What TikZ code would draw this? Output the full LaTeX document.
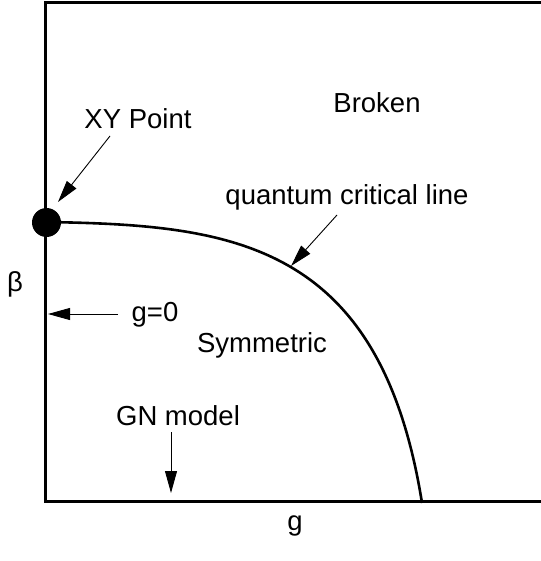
\documentclass[tikz,border=0pt]{standalone}
\usepackage{fontspec}
\setmainfont{Liberation Sans}
\usetikzlibrary{arrows.meta}
\tikzset{
  frame/.style={line width=3pt},
  curve/.style={line width=2.6pt},
  lbl/.style={font=\fontsize{27.5}{32}\selectfont, inner sep=0pt},
  pointer/.style={line width=0.9pt, -{Triangle[length=22pt,width=12pt]}},
}
\begin{document}
\begin{tikzpicture}[x=1pt,y=-1pt]
\useasboundingbox (0,0) rectangle (540,561);
% frame
\coordinate (tr) at (545,2.5);
\coordinate (tl) at (45,2.5);
\coordinate (bl) at (45,501.5);
\coordinate (br) at (545,501.5);
\draw[frame] (tr) -- (tl) -- (bl) -- (br);
% critical line
\coordinate (cstart) at (46,222);
\coordinate (cend) at (422,503);
\draw[curve] (cstart) .. controls (230,225) and (380,240) .. (cend);
\node[circle, fill=black, minimum size=29pt, inner sep=0pt] (xy) at (46.5,222.5) {};
% labels
\node[lbl] (broken) at (377,103) {Broken};
\node[lbl] (xyp) at (138,119) {XY Point};
\node[lbl] (qcl) at (347,197) {quantum critical line};
\node[lbl] (beta) at (15,284) {β};
\node[lbl] (g0) at (155,315) {g=0};
\node[lbl] (sym) at (262,345) {Symmetric};
\node[lbl] (gn) at (178,416) {GN model};
\node[lbl] (g) at (295,526) {g};
% pointer ends
\coordinate (xystart) at (110,136);
\coordinate (xytip) at (58,202);
\coordinate (qstart) at (337,215);
\coordinate (qtip) at (291,266);
\coordinate (g0start) at (118,314);
\coordinate (g0tip) at (48,314);
\coordinate (gnstart) at (171,432);
\coordinate (gntip) at (171,493);
\draw[pointer] (xystart) -- (xytip);
\draw[pointer] (qstart) -- (qtip);
\draw[pointer] (g0start) -- (g0tip);
\draw[pointer] (gnstart) -- (gntip);
\end{tikzpicture}
\end{document}
